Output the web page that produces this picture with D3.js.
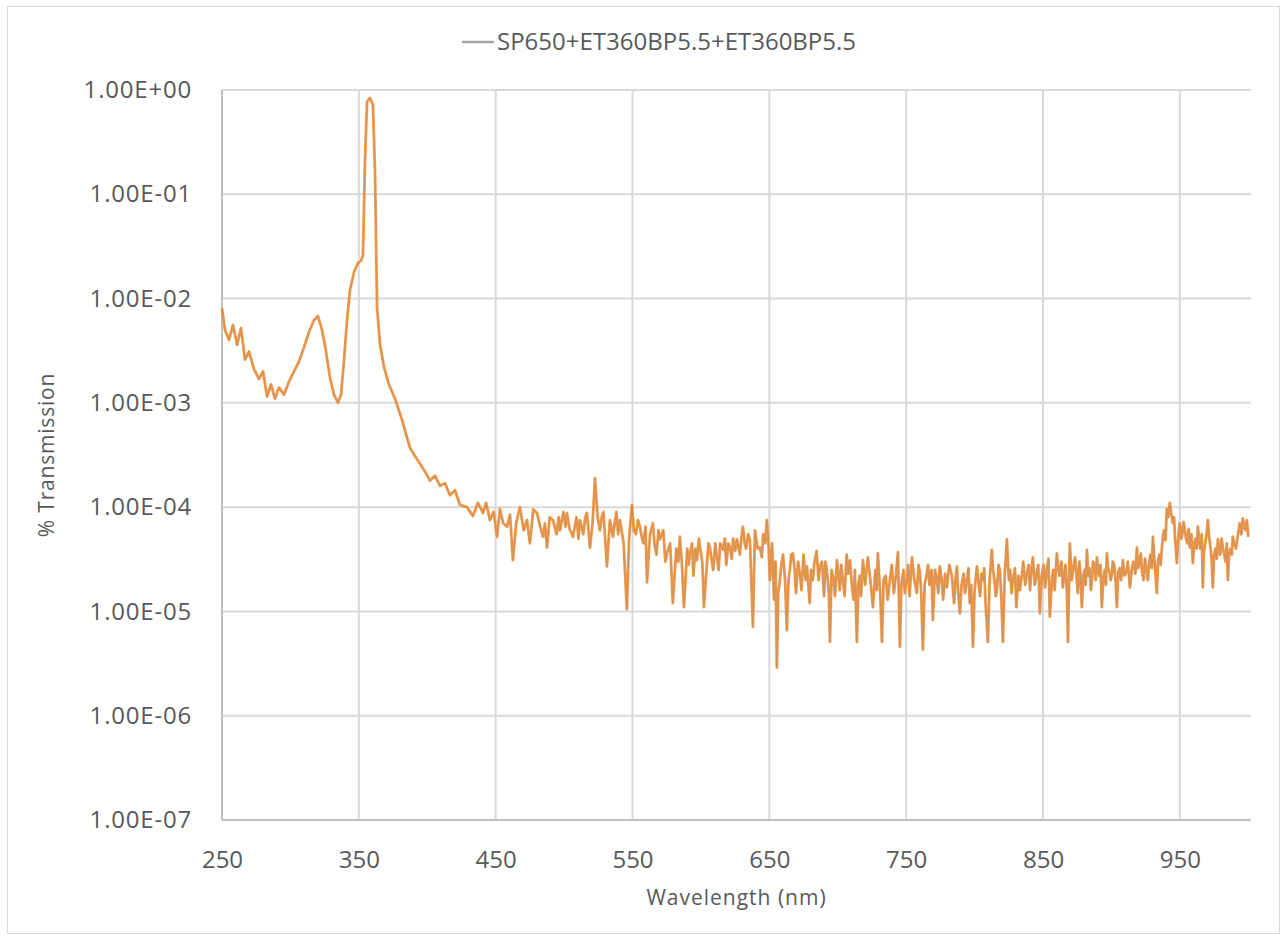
<!DOCTYPE html>
<html>
<head>
<meta charset="utf-8">
<script src="https://cdn.jsdelivr.net/npm/d3@7"></script>
<style>
  body { margin: 0; background: #fff; }
  text { font-family: "Open Sans", sans-serif; fill: #595959; }
  .grid line { stroke: #d9d9d9; stroke-width: 2; }
  .axis-line { stroke: #bfbfbf; stroke-width: 2; }
</style>
</head>
<body>
<svg id="chart" width="1287" height="937"></svg>
<script>
const seriesName = "SP650+ET360BP5.5+ET360BP5.5";
const xTitle = "Wavelength (nm)";
const yTitle = "% Transmission";
const xTicks = [250, 350, 450, 550, 650, 750, 850, 950];
const yTicks = [1, 1e-1, 1e-2, 1e-3, 1e-4, 1e-5, 1e-6, 1e-7];

// [wavelength nm, transmission]
const spectrum = [
  [250, 8.1e-3], [252.2, 5.0e-3], [255.1, 4.0e-3], [258, 5.6e-3], [261, 3.6e-3],
  [263.9, 5.2e-3], [266.8, 2.6e-3], [269.7, 3.1e-3], [273.4, 2.1e-3], [277, 1.7e-3],
  [280, 2.0e-3], [282.9, 1.15e-3], [285.8, 1.5e-3], [288.7, 1.1e-3], [291.6, 1.4e-3],
  [295.3, 1.2e-3], [299, 1.6e-3], [302.6, 2.0e-3], [306.3, 2.5e-3], [309.9, 3.4e-3],
  [313.6, 4.8e-3], [317.2, 6.2e-3], [320.1, 6.8e-3], [323.1, 5.0e-3], [326, 3.1e-3],
  [328.9, 1.75e-3], [331.8, 1.2e-3], [334.8, 1.0e-3], [337, 1.2e-3], [339.1, 2.5e-3],
  [341.3, 6.0e-3], [343.5, 1.2e-2], [346.5, 1.8e-2], [349.4, 2.2e-2], [351.6, 2.3e-2],
  [353, 2.6e-2], [354.5, 0.21], [356, 0.77], [358.1, 0.84], [360.3, 0.72],
  [361.8, 0.17], [363.3, 8.3e-3], [365.5, 3.6e-3], [368.4, 2.2e-3], [372, 1.5e-3],
  [376.4, 1.1e-3], [381.5, 6.9e-4], [384.5, 5.0e-4], [387.4, 3.7e-4], [391, 3.1e-4],
  [394.7, 2.6e-4], [398.3, 2.2e-4], [402, 1.8e-4], [405.6, 2.0e-4], [409.3, 1.6e-4],
  [412.9, 1.7e-4], [416.6, 1.3e-4], [420.3, 1.45e-4], [423.9, 1.05e-4], [429, 1.0e-4],
  [433.4, 8.2e-5], [437, 1.1e-4], [440.7, 8.8e-5], [443, 1.1e-4], [445.8, 7.5e-5],
  [448.5, 9.0e-5], [451, 5.2e-5], [453.1, 9.6e-5], [455.5, 7.0e-5], [458.3, 6.5e-5],
  [460.5, 8.5e-5], [462.6, 3.1e-5], [465, 7.0e-5], [467.7, 1.0e-4], [470.5, 6.0e-5],
  [472.9, 7.5e-5], [475, 4.5e-5], [477.5, 9.5e-5], [480.2, 8.8e-5], [482.5, 6.5e-5],
  [484.6, 5.2e-5], [486, 7.0e-5], [487.5, 4.1e-5], [489.5, 8.0e-5], [491.9, 7.5e-5],
  [494.5, 5.5e-5], [496, 8.0e-5], [497, 6.0e-5], [499.5, 9.0e-5], [501, 6.5e-5],
  [502.1, 8.8e-5], [504, 6.2e-5], [506.5, 5.2e-5], [509, 8.0e-5], [510.5, 5.0e-5],
  [511.6, 7.5e-5], [514, 5.5e-5], [515.5, 8.0e-5], [516.7, 8.8e-5], [518.9, 4.1e-5],
  [520.8, 7.0e-5], [522.6, 1.9e-4], [524.5, 8.0e-5], [526.2, 6.0e-5], [527.5, 8.0e-5],
  [528.8, 9.0e-5], [530, 5.0e-5], [531.3, 2.7e-5], [533.5, 7.5e-5], [535.7, 5.2e-5],
  [537, 7.0e-5], [538.2, 9.0e-5], [539.5, 5.5e-5], [540.8, 7.5e-5], [542, 6.0e-5],
  [543.5, 4.5e-5], [545.9, 1.05e-5], [547.5, 5.0e-5], [549.6, 1.05e-4], [551, 6.0e-5],
  [552.5, 5.5e-5], [554, 7.5e-5], [555.4, 6.5e-5], [557, 5.0e-5], [558, 4.5e-5],
  [559.5, 6.5e-5], [560.6, 1.9e-5], [562.8, 5.5e-5], [564.9, 7.0e-5], [566, 4.5e-5],
  [567.5, 3.5e-5], [569, 6.0e-5], [570, 4.9e-5], [572.5, 6.0e-5], [574, 3.0e-5],
  [575.2, 3.6e-5], [577.5, 4.5e-5], [579.5, 1.2e-5], [582, 4.0e-5], [583.5, 3.0e-5],
  [584.6, 5.2e-5], [586, 3.0e-5], [587.6, 1.1e-5], [590, 4.0e-5], [591, 2.8e-5],
  [592, 3.6e-5], [593.5, 4.5e-5], [594.5, 2.2e-5], [596, 4.0e-5], [597.1, 3.1e-5],
  [598.5, 5.0e-5], [599.5, 4.0e-5], [601, 3.0e-5], [602.2, 1.1e-5], [604.5, 3.0e-5],
  [605.5, 4.5e-5], [606.6, 4.1e-5], [608, 3.0e-5], [609, 2.5e-5], [610.5, 4.5e-5],
  [611.7, 3.3e-5], [613, 2.5e-5], [614, 4.5e-5], [616.1, 3.9e-5], [617.5, 5.0e-5],
  [618.5, 2.8e-5], [620, 4.5e-5], [621.2, 4.1e-5], [622.5, 3.2e-5], [623.5, 5.0e-5],
  [625, 3.8e-5], [626.3, 4.9e-5], [628.5, 3.5e-5], [629.5, 5.0e-5], [630.7, 6.5e-5],
  [632, 4.5e-5], [633, 4.0e-5], [634.5, 5.5e-5], [635.8, 4.9e-5], [638, 7.1e-6],
  [639.5, 6.0e-5], [641.5, 4.0e-5], [643.1, 4.1e-5], [644.5, 3.3e-5], [645.5, 5.5e-5],
  [647, 4.5e-5], [648.2, 7.5e-5], [649.5, 4.0e-5], [650.4, 2.0e-5], [652, 4.5e-5],
  [653.4, 1.3e-5], [654.5, 3.0e-5], [655.5, 2.9e-6], [656.5, 1.5e-5], [657.7, 2.0e-5],
  [659, 3.0e-5], [660, 3.5e-5], [661.5, 2.0e-5], [662.8, 6.6e-6], [664, 2.0e-5],
  [665, 2.5e-5], [666, 3.5e-5], [667.2, 3.6e-5], [668.5, 2.5e-5], [669.5, 1.5e-5],
  [671, 3.0e-5], [672.3, 2.3e-5], [673.5, 1.6e-5], [675, 3.5e-5], [676.5, 2.0e-5],
  [677.5, 2.7e-5], [679.5, 1.2e-5], [680.5, 2.5e-5], [681.8, 2.0e-5], [683, 3.0e-5],
  [684.5, 3.8e-5], [686, 2.0e-5], [687, 2.7e-5], [688.5, 3.0e-5], [690, 1.4e-5],
  [691, 3.0e-5], [692, 2.5e-5], [693.5, 1.5e-5], [694.3, 5.1e-6], [695.5, 2.5e-5],
  [697, 2.0e-5], [698, 1.4e-5], [699.4, 3.1e-5], [700.5, 2.2e-5], [701.5, 1.6e-5],
  [702.5, 2.8e-5], [703.8, 2.0e-5], [705, 1.4e-5], [706.5, 3.5e-5], [707.5, 2.3e-5],
  [708.9, 3.1e-5], [710, 2.0e-5], [711.5, 1.3e-5], [712.5, 2.5e-5], [714, 5.1e-6],
  [715, 1.8e-5], [716, 2.2e-5], [717, 1.4e-5], [718.4, 3.1e-5], [720, 1.8e-5],
  [721, 2.5e-5], [722, 3.3e-5], [723.8, 2.0e-5], [725.7, 1.1e-5], [727.5, 2.5e-5],
  [728.5, 1.6e-5], [729.3, 3.6e-5], [731, 1.5e-5], [732.3, 5.1e-6], [733.5, 2.0e-5],
  [735, 2.2e-5], [736.5, 1.3e-5], [738.1, 2.0e-5], [739.5, 2.8e-5], [741, 1.5e-5],
  [742.5, 2.2e-5], [744, 3.7e-5], [745.4, 4.6e-6], [746.5, 1.8e-5], [748, 2.5e-5],
  [749, 1.5e-5], [750.5, 2.0e-5], [751.5, 2.8e-5], [752.5, 1.4e-5], [754.2, 3.3e-5],
  [756, 2.0e-5], [757.8, 1.5e-5], [759, 2.8e-5], [760, 2.4e-5], [761, 1.5e-5],
  [762.2, 4.3e-6], [763.5, 1.8e-5], [765.1, 2.3e-5], [766, 2.8e-5], [767, 1.8e-5],
  [768.5, 2.5e-5], [769.5, 8.3e-6], [771, 2.5e-5], [772, 2.2e-5], [773.5, 1.5e-5],
  [774.6, 2.7e-5], [776, 2.0e-5], [777, 1.3e-5], [778.5, 2.3e-5], [779.8, 1.7e-5],
  [781.5, 2.8e-5], [783.4, 2.2e-5], [785, 1.2e-5], [786, 2.0e-5], [787.1, 2.7e-5],
  [788, 1.5e-5], [789.3, 9.6e-6], [790.5, 1.8e-5], [792, 2.3e-5], [793, 1.5e-5],
  [794.4, 2.0e-5], [795.5, 2.6e-5], [796.5, 1.2e-5], [797.5, 1.8e-5], [798.8, 4.6e-6],
  [800, 1.6e-5], [801.7, 2.7e-5], [803, 1.8e-5], [804, 1.4e-5], [805, 2.3e-5],
  [806.1, 2.0e-5], [807, 2.6e-5], [808, 1.2e-5], [809.7, 5.1e-6], [811, 2.0e-5],
  [812.6, 3.9e-5], [813.5, 2.5e-5], [814.5, 2.0e-5], [815.5, 1.4e-5], [816.3, 1.6e-5],
  [817.5, 2.8e-5], [818.5, 2.5e-5], [819.5, 1.4e-5], [820.7, 5.1e-6], [822, 2.2e-5],
  [823.6, 4.9e-5], [825, 2.0e-5], [826, 2.5e-5], [827, 1.5e-5], [828, 2.0e-5],
  [829.5, 2.6e-5], [830.5, 1.1e-5], [832, 2.2e-5], [833.1, 1.6e-5], [834.5, 2.2e-5],
  [835.5, 3.0e-5], [837, 1.8e-5], [838.2, 2.3e-5], [839.5, 2.8e-5], [840.5, 1.6e-5],
  [841.5, 2.5e-5], [842.6, 3.3e-5], [844, 1.8e-5], [845, 2.2e-5], [846.5, 2.8e-5],
  [847.7, 9.6e-6], [849, 2.2e-5], [850.5, 2.8e-5], [851.5, 1.7e-5], [852.8, 2.5e-5],
  [854, 3.2e-5], [855, 8.9e-6], [856.5, 2.0e-5], [857.5, 2.5e-5], [858.5, 1.6e-5],
  [860.1, 3.6e-5], [861, 2.8e-5], [862, 2.2e-5], [863.5, 3.0e-5], [864.5, 1.7e-5],
  [865.5, 2.2e-5], [866.5, 2.8e-5], [867.5, 1.5e-5], [868.2, 5.1e-6], [869.6, 4.5e-5],
  [871, 2.0e-5], [872, 2.5e-5], [873.5, 3.3e-5], [874.7, 2.0e-5], [875.5, 1.5e-5],
  [876.5, 3.0e-5], [877.5, 2.2e-5], [878.4, 1.1e-5], [879.5, 2.2e-5], [880.5, 2.5e-5],
  [881.2, 1.8e-5], [882.1, 3.9e-5], [883, 2.2e-5], [884, 2.6e-5], [885, 1.6e-5],
  [885.7, 2.0e-5], [886.5, 3.0e-5], [887.5, 2.8e-5], [888.5, 2.0e-5], [889.4, 3.3e-5],
  [890.2, 2.6e-5], [891, 2.2e-5], [892, 2.8e-5], [893, 1.1e-5], [894, 2.0e-5],
  [895, 2.5e-5], [896, 1.8e-5], [896.7, 3.6e-5], [897.5, 2.6e-5], [898.5, 2.4e-5],
  [899.5, 2.0e-5], [900.3, 2.3e-5], [901, 3.0e-5], [902, 2.8e-5], [903, 2.0e-5],
  [904, 1.1e-5], [905, 2.4e-5], [906, 2.6e-5], [907, 2.0e-5], [908.4, 3.1e-5],
  [909.5, 2.2e-5], [911, 2.4e-5], [912, 3.0e-5], [913.5, 1.7e-5], [915, 2.6e-5],
  [916, 3.0e-5], [917.5, 2.3e-5], [918.6, 4.1e-5], [919.5, 2.6e-5], [920.5, 3.0e-5],
  [921.5, 3.6e-5], [922.2, 2.5e-5], [923.5, 2.0e-5], [924.5, 3.2e-5], [925.5, 2.6e-5],
  [926.6, 2.0e-5], [927.5, 2.8e-5], [928.5, 3.5e-5], [929.5, 2.6e-5], [930.3, 5.2e-5],
  [931.5, 3.0e-5], [933.2, 1.5e-5], [934, 3.0e-5], [935, 3.5e-5], [936, 2.8e-5],
  [936.9, 4.1e-5], [937.8, 5.5e-5], [938.5, 6.0e-5], [939.5, 4.8e-5], [940.5, 9.6e-5],
  [941.5, 8.0e-5], [942.7, 1.1e-4], [943.8, 8.5e-5], [944.9, 7.0e-5], [945.8, 8.0e-5],
  [946.5, 5.0e-5], [947.8, 2.9e-5], [949, 5.5e-5], [950, 7.0e-5], [951, 5.0e-5],
  [951.8, 5.5e-5], [952.8, 7.2e-5], [953.7, 6.0e-5], [954.5, 5.0e-5], [955.5, 4.5e-5],
  [956.5, 6.2e-5], [957.3, 4.1e-5], [958.5, 5.5e-5], [959.5, 2.9e-5], [960.5, 4.5e-5],
  [961.5, 5.0e-5], [962.3, 4.0e-5], [963.2, 6.5e-5], [964, 5.0e-5], [965, 4.0e-5],
  [966, 5.5e-5], [966.8, 1.7e-5], [967.5, 3.5e-5], [968.5, 4.5e-5], [969.5, 5.5e-5],
  [970.5, 7.5e-5], [971.5, 5.0e-5], [972.5, 4.0e-5], [973.3, 3.0e-5], [974.1, 1.7e-5],
  [975, 3.5e-5], [976, 4.0e-5], [977, 3.2e-5], [977.8, 4.9e-5], [978.7, 4.0e-5],
  [979.5, 3.5e-5], [980.5, 5.0e-5], [981.4, 4.1e-5], [982.5, 3.5e-5], [983.5, 3.0e-5],
  [984.3, 4.5e-5], [985.1, 2.0e-5], [986, 3.5e-5], [987, 4.0e-5], [988, 3.5e-5],
  [988.7, 5.2e-5], [989.8, 4.5e-5], [991, 4.0e-5], [992.5, 5.5e-5], [993.8, 7.0e-5],
  [995, 5.5e-5], [996, 7.8e-5], [997, 6.5e-5], [998, 6.0e-5], [999, 7.5e-5],
  [1000, 5.2e-5]
];

const WIDTH = 1287;
const HEIGHT = 937;
const MARGIN = { TOP: 90, BOTTOM: 117, LEFT: 222, RIGHT: 36 };

const svg = d3.select('#chart');

const x = d3.scaleLinear()
  .domain([250, 1002])
  .range([MARGIN.LEFT, WIDTH - MARGIN.RIGHT]);

const y = d3.scaleLog()
  .domain([1e-7, 1])
  .range([HEIGHT - MARGIN.BOTTOM, MARGIN.TOP]);

const sciFormat = d => {
  const e = Math.round(Math.log10(d));
  return '1.00E' + (e < 0 ? '-' : '+') + String(Math.abs(e)).padStart(2, '0');
};

// outer chart border
svg.append('rect')
  .attr('x', 7.5)
  .attr('y', 6.5)
  .attr('width', WIDTH - 15)
  .attr('height', HEIGHT - 10)
  .attr('fill', 'none')
  .attr('stroke', '#d9d9d9');

const grid = svg.append('g').attr('class', 'grid');

grid.selectAll('.hgrid')
  .data(yTicks.filter(d => d > 1e-7))
  .enter()
  .append('line')
  .attr('class', 'hgrid')
  .attr('x1', x.range()[0])
  .attr('x2', x.range()[1])
  .attr('y1', y)
  .attr('y2', y);

grid.selectAll('.vgrid')
  .data(xTicks.filter(d => d > 250))
  .enter()
  .append('line')
  .attr('class', 'vgrid')
  .attr('x1', x)
  .attr('x2', x)
  .attr('y1', y.range()[0])
  .attr('y2', y.range()[1]);

svg.append('line')
  .attr('class', 'axis-line')
  .attr('x1', x.range()[0])
  .attr('x2', x.range()[0])
  .attr('y1', y.range()[0])
  .attr('y2', y.range()[1]);

svg.append('line')
  .attr('class', 'axis-line')
  .attr('x1', x.range()[0])
  .attr('x2', x.range()[1])
  .attr('y1', y.range()[0])
  .attr('y2', y.range()[0]);

const xAxis = svg.append('g')
  .attr('transform', `translate(0, ${y.range()[0]})`)
  .call(d3.axisBottom(x).tickValues(xTicks).tickSize(0).tickPadding(31).tickFormat(d3.format('d')));
xAxis.select('.domain').remove();
xAxis.selectAll('text')
  .style('font-size', '24px')
  .attr('fill', '#595959');

const yAxis = svg.append('g')
  .attr('transform', `translate(${x.range()[0]}, 0)`)
  .call(d3.axisLeft(y).tickValues(yTicks).tickSize(0).tickPadding(30).tickFormat(sciFormat));
yAxis.select('.domain').remove();
yAxis.selectAll('text')
  .style('font-size', '24px')
  .style('letter-spacing', '0.8px')
  .attr('fill', '#595959');

const line = d3.line()
  .x(d => x(d[0]))
  .y(d => y(d[1]));

svg.append('path')
  .datum(spectrum)
  .attr('fill', 'none')
  .attr('stroke', '#f28c30')
  .attr('stroke-width', 2.8)
  .attr('stroke-linejoin', 'round')
  .attr('opacity', 0.9)
  .attr('d', line);

svg.append('path')
  .datum(spectrum)
  .attr('fill', 'none')
  .attr('stroke', '#8e8e8e')
  .attr('stroke-width', 0.8)
  .attr('opacity', 0.4)
  .attr('d', line);

// legend
const legend = svg.append('g').attr('transform', 'translate(462, 42)');
legend.append('line')
  .attr('x1', 0)
  .attr('x2', 32)
  .attr('stroke', '#a5a5a5')
  .attr('stroke-width', 2.5);
legend.append('text')
  .attr('x', 35)
  .attr('dy', '0.35em')
  .style('font-size', '24px')
  .text(seriesName);

svg.append('text')
  .attr('x', (x.range()[0] + x.range()[1]) / 2)
  .attr('y', 905)
  .attr('text-anchor', 'middle')
  .style('font-size', '21px')
  .style('letter-spacing', '1px')
  .text(xTitle);

svg.append('text')
  .attr('transform', `translate(54, ${(y.range()[0] + y.range()[1]) / 2}) rotate(-90)`)
  .attr('text-anchor', 'middle')
  .style('font-size', '21px')
  .style('letter-spacing', '0.8px')
  .text(yTitle);
</script>
</body>
</html>
